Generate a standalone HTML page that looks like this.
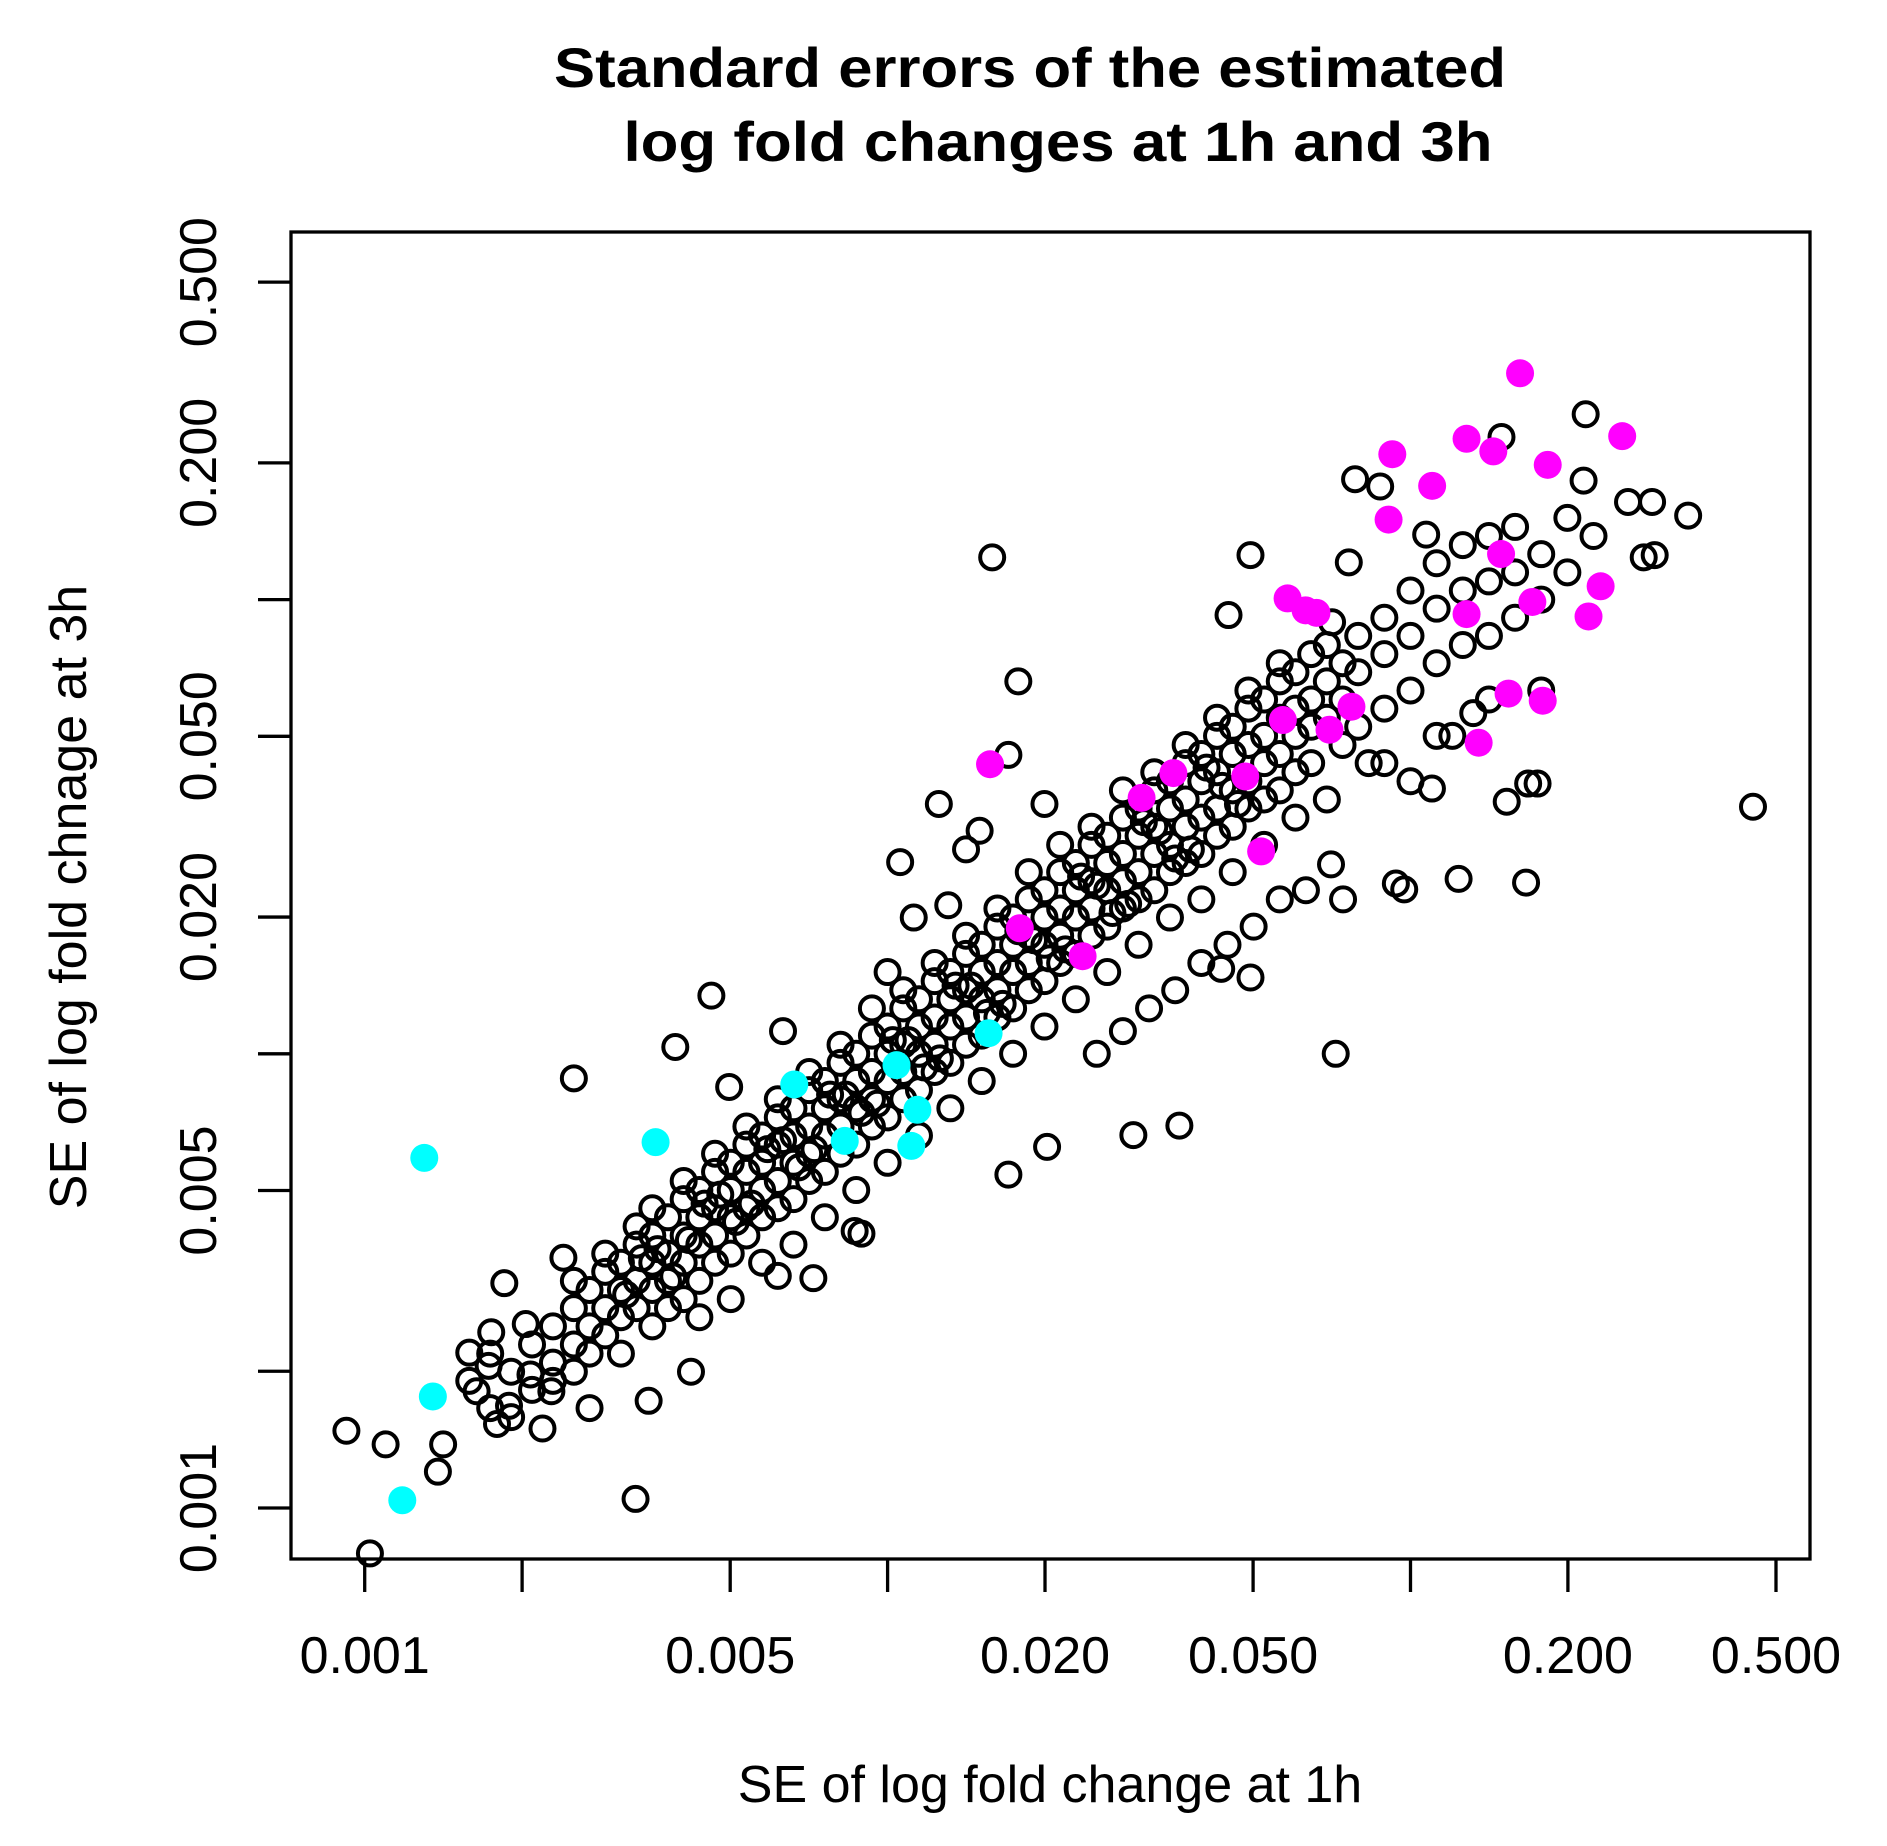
<!DOCTYPE html>
<html><head><meta charset="utf-8"><style>
html,body{margin:0;padding:0;background:#fff;}
svg{display:block;font-family:"Liberation Sans",sans-serif;}
</style></head><body>
<svg id="chart" width="1887" height="1846" viewBox="0 0 1887 1846">
<rect x="0" y="0" width="1887" height="1846" fill="#fff"/>
<text x="1030" y="87" text-anchor="middle" font-size="56" font-weight="bold" textLength="952" lengthAdjust="spacingAndGlyphs">Standard errors of the estimated</text>
<text x="1058" y="161" text-anchor="middle" font-size="56" font-weight="bold" textLength="869" lengthAdjust="spacingAndGlyphs">log fold changes at 1h and 3h</text>
<text x="1050" y="1802" text-anchor="middle" font-size="52">SE of log fold change at 1h</text>
<text x="0" y="0" transform="translate(86,897) rotate(-90)" text-anchor="middle" font-size="52">SE of log fold chnage at 3h</text>
<g id="axes"></g>
<g id="points"></g>
<rect x="291" y="232" width="1519" height="1327" fill="none" stroke="#000" stroke-width="3.3"/>
</svg>
<script>
const xTickValues = [0.001,0.002,0.005,0.01,0.02,0.05,0.1,0.2,0.5];
const xTickLabels = ["0.001","","0.005","","0.020","0.050","","0.200","0.500"];
const yTickValues = [0.001,0.002,0.005,0.01,0.02,0.05,0.1,0.2,0.5];
const yTickLabels = ["0.001","","0.005","","0.020","0.050","","0.200","0.500"];

const magentaSE1h = [0.162,0.254,0.128,0.144,0.0923,0.183,0.110,0.0908,0.149,0.231,0.0582,0.171,0.063,0.0661,0.128,0.219,0.154,0.179,0.0771,0.057,0.070,0.135,0.0157,0.0352,0.0483,0.0306,0.0518,0.0179,0.0236];
const magentaSE3h = [0.315,0.229,0.226,0.212,0.209,0.198,0.178,0.150,0.126,0.107,0.1006,0.0988,0.0947,0.0935,0.0929,0.0918,0.0621,0.0599,0.0581,0.0543,0.0517,0.0484,0.0434,0.0415,0.0408,0.0366,0.0279,0.0189,0.0164];
const cyanSE1h = [0.00130,0.00360,0.00663,0.0104,0.0156,0.0114,0.00828,0.0111,0.00135,0.00118];
const cyanSE3h = [0.0059,0.00639,0.00856,0.00944,0.0111,0.00753,0.00643,0.00627,0.00176,0.00104];

const logSE1h = [
-1.80,-1.75,-0.345,-1.143,-2.60,-2.337,-2.482,-2.99,-3.035,-2.96,-2.86,-2.85,-0.826,-0.665,-0.669,-0.469,-0.584,-0.538,-0.554,-0.533,-1.106,-1.058,-0.97,-1.306,-1.348,-1.118,-0.908,-1.028,-1.012,-0.779,-0.775,-0.757,-0.816,-0.959,-1.129,-1.152,-1.902,-1.976,-1.824,-1.769,-1.884,-1.53,-1.442,-1.769,-1.695,-2.142,-2.21,-2.376,-2.457,-2.57,-2.66,-2.747,-2.733,-2.62,-2.80,-2.763,-2.786,-2.724,-2.683,-2.643,-2.758,-2.692,-2.406,-2.303,-1.306,-1.362,-2.063,-2.05,
-2.80,-2.76,-2.76,-2.72,-2.72,-2.68,-2.68,-2.64,-2.64,-2.64,-2.60,-2.60,-2.60,-2.60,-2.57,-2.57,-2.57,-2.54,-2.54,-2.54,-2.54,-2.51,-2.51,-2.51,-2.51,-2.48,-2.48,-2.48,-2.48,
-2.45,-2.45,-2.45,-2.45,-2.45,-2.42,-2.42,-2.42,-2.42,-2.39,-2.39,-2.39,-2.39,-2.39,-2.36,-2.36,-2.36,-2.36,-2.36,-2.33,-2.33,-2.33,-2.33,-2.33,-2.30,-2.30,-2.30,-2.30,-2.30,
-2.27,-2.27,-2.27,-2.27,-2.27,-2.24,-2.24,-2.24,-2.24,-2.24,-2.21,-2.21,-2.21,-2.21,-2.21,-2.18,-2.18,-2.18,-2.18,-2.18,-2.15,-2.15,-2.15,-2.15,-2.15,-2.12,-2.12,-2.12,-2.12,-2.12,
-2.09,-2.09,-2.09,-2.09,-2.09,-2.06,-2.06,-2.06,-2.06,-2.06,-2.03,-2.03,-2.03,-2.03,-2.03,-2.00,-2.00,-2.00,-2.00,-2.00,-1.97,-1.97,-1.97,-1.97,-1.97,-1.94,-1.94,-1.94,-1.94,-1.94,
-1.91,-1.91,-1.91,-1.91,-1.91,-1.88,-1.88,-1.88,-1.88,-1.88,-1.85,-1.85,-1.85,-1.85,-1.85,-1.82,-1.82,-1.82,-1.82,-1.82,-1.79,-1.79,-1.79,-1.79,-1.79,-1.76,-1.76,-1.76,-1.76,-1.76,
-1.73,-1.73,-1.73,-1.73,-1.73,-1.70,-1.70,-1.70,-1.70,-1.70,-1.67,-1.67,-1.67,-1.67,-1.67,-1.64,-1.64,-1.64,-1.64,-1.64,-1.61,-1.61,-1.61,-1.61,-1.61,-1.58,-1.58,-1.58,-1.58,-1.58,
-1.55,-1.55,-1.55,-1.55,-1.55,-1.52,-1.52,-1.52,-1.52,-1.52,-1.49,-1.49,-1.49,-1.49,-1.49,-1.46,-1.46,-1.46,-1.46,-1.46,-1.43,-1.43,-1.43,-1.43,-1.43,-1.40,-1.40,-1.40,-1.40,-1.40,
-1.37,-1.37,-1.37,-1.37,-1.37,-1.34,-1.34,-1.34,-1.34,-1.34,-1.31,-1.31,-1.31,-1.31,-1.31,-1.28,-1.28,-1.28,-1.28,-1.28,-1.25,-1.25,-1.25,-1.25,-1.25,-1.22,-1.22,-1.22,-1.22,-1.22,
-1.19,-1.19,-1.19,-1.19,-1.16,-1.16,-1.16,-1.16,-1.13,-1.13,-1.13,-1.10,-1.10,-1.10,-1.05,-1.05,-1.05,-1.05,-1.00,-1.00,-1.00,-0.95,-0.95,-0.95,-0.95,-0.90,-0.90,-0.90,
-0.85,-0.85,-0.85,-0.85,-0.80,-0.80,-0.80,-0.75,-0.75,-0.75,-0.70,-0.70,-0.65,
-1.40,-1.35,-1.30,-1.45,-1.50,-1.25,-1.20,-1.55,-1.60,-2.00,-1.95,-2.20,-1.85,-1.70,-1.00,-0.92,-1.08,-1.15,-0.88,
-2.50,-2.44,-2.38,-2.32,-2.26,-2.20,-2.14,-2.08,-2.02,-1.96,-1.90,-1.84,-1.78,-1.72,-1.66,-1.60,-1.54,-1.48,-1.42,-1.36,
-2.47,-2.41,-2.35,-2.29,-2.23,-2.17,-2.11,-2.05,-1.99,-1.93,-1.87,-1.81,-1.75,-1.69,-1.63,-1.57,-1.51,-1.45,-1.39,-1.33
];
const logSE3h = [
-0.907,-1.18,-1.456,-2.0,-2.054,-1.872,-2.98,-3.10,-2.83,-2.86,-2.92,-2.86,-0.642,-0.592,-0.738,-0.815,-0.785,-0.785,-0.907,-0.902,-0.735,-0.751,-0.857,-0.902,-1.034,-0.918,-1.615,-1.625,-1.638,-1.623,-1.405,-1.405,-1.445,-1.416,-1.660,-1.583,-1.45,-1.578,-1.509,-1.342,-1.673,-2.179,-2.158,-2.266,-2.205,-2.494,-2.489,-2.70,-2.764,-2.78,-2.825,-2.815,-2.505,-2.449,-2.658,-2.687,-2.743,-2.775,-2.706,-2.743,-2.613,-2.595,-1.985,-2.073,-1.832,-1.813,-2.39,-2.396,
-2.72,-2.78,-2.66,-2.70,-2.80,-2.64,-2.74,-2.60,-2.68,-2.72,-2.56,-2.64,-2.70,-2.50,-2.52,-2.60,-2.66,-2.48,-2.56,-2.62,-2.44,-2.46,-2.52,-2.58,-2.66,-2.42,-2.50,-2.56,-2.38,
-2.40,-2.46,-2.52,-2.60,-2.34,-2.36,-2.44,-2.50,-2.56,-2.32,-2.40,-2.46,-2.54,-2.28,-2.30,-2.36,-2.42,-2.50,-2.58,-2.26,-2.34,-2.40,-2.46,-2.22,-2.24,-2.30,-2.36,-2.44,-2.54,
-2.20,-2.26,-2.34,-2.40,-2.16,-2.18,-2.24,-2.30,-2.36,-2.46,-2.14,-2.20,-2.28,-2.34,-2.10,-2.12,-2.18,-2.24,-2.32,-2.42,-2.08,-2.16,-2.22,-2.28,-2.04,-2.06,-2.12,-2.18,-2.26,-2.36,
-2.02,-2.10,-2.16,-2.22,-1.98,-2.00,-2.06,-2.12,-2.20,-2.30,-1.96,-2.04,-2.10,-2.16,-1.90,-1.94,-2.00,-2.06,-2.14,-2.24,-1.90,-1.98,-2.04,-2.10,-1.86,-1.88,-1.94,-2.00,-2.08,-2.18,
-1.84,-1.92,-1.98,-2.04,-1.80,-1.82,-1.88,-1.94,-2.02,-2.12,-1.78,-1.86,-1.92,-1.98,-1.74,-1.76,-1.82,-1.88,-1.96,-2.06,-1.72,-1.80,-1.86,-1.92,-1.68,-1.70,-1.76,-1.82,-1.90,-2.00,
-1.66,-1.74,-1.80,-1.86,-1.60,-1.64,-1.70,-1.76,-1.84,-1.94,-1.60,-1.68,-1.74,-1.80,-1.54,-1.58,-1.64,-1.70,-1.78,-1.88,-1.54,-1.62,-1.68,-1.74,-1.50,-1.52,-1.58,-1.64,-1.72,-1.82,
-1.48,-1.56,-1.62,-1.68,-1.42,-1.46,-1.52,-1.60,-1.66,-1.76,-1.42,-1.50,-1.56,-1.64,-1.38,-1.40,-1.46,-1.54,-1.60,-1.70,-1.36,-1.44,-1.50,-1.58,-1.32,-1.34,-1.40,-1.48,-1.56,-1.66,
-1.30,-1.38,-1.46,-1.52,-1.26,-1.28,-1.34,-1.42,-1.50,-1.60,-1.24,-1.32,-1.40,-1.46,-1.20,-1.22,-1.30,-1.36,-1.44,-1.54,-1.18,-1.26,-1.34,-1.42,-1.14,-1.16,-1.24,-1.30,-1.38,-1.48,
-1.12,-1.22,-1.28,-1.36,-1.10,-1.18,-1.26,-1.44,-1.14,-1.22,-1.32,-1.08,-1.16,-1.28,-1.04,-1.12,-1.24,-1.36,-0.98,-1.08,-1.20,-0.92,-1.02,-1.14,-1.30,-0.88,-0.98,-1.10,
-0.86,-0.96,-1.08,-1.22,-0.84,-0.94,-1.04,-0.90,-1.00,-1.20,-0.82,-0.94,-0.86,
-1.80,-1.76,-1.72,-1.86,-1.90,-1.66,-1.64,-1.95,-2.00,-1.82,-1.70,-1.95,-1.55,-1.45,-1.40,-1.30,-1.36,-1.05,-1.25,
-2.53,-2.43,-2.41,-2.31,-2.33,-2.19,-2.21,-2.09,-2.11,-1.97,-2.01,-1.85,-1.89,-1.75,-1.77,-1.63,-1.67,-1.51,-1.55,-1.41,
-2.45,-2.49,-2.33,-2.37,-2.21,-2.25,-2.09,-2.13,-1.97,-2.03,-1.85,-1.91,-1.73,-1.79,-1.61,-1.69,-1.49,-1.57,-1.37,-1.45
];

const NS = "http://www.w3.org/2000/svg";
function xScale(logv){ return 364.7 + (logv + 3) * 522.9; }
function yScale(logv){ return 1508 - (logv + 3) * 454.2; }
function xOf(v){ return xScale(Math.log10(v)); }
function yOf(v){ return yScale(Math.log10(v)); }

const axes = document.getElementById('axes');
const pts = document.getElementById('points');

function mk(tag, attrs){
  const e = document.createElementNS(NS, tag);
  for (const k in attrs) e.setAttribute(k, attrs[k]);
  return e;
}

xTickValues.forEach((v, i) => {
  const px = xOf(v);
  const t = mk('line', {x1:px, x2:px, y1:1559, y2:1592, stroke:'#000', 'stroke-width':3.3});
  
  
  axes.appendChild(t);
  if (xTickLabels[i]) {
    const tx = mk('text', {x:px, y:1673, 'text-anchor':'middle', 'font-size':52});
    
    
    tx.textContent = xTickLabels[i];
    axes.appendChild(tx);
  }
});
yTickValues.forEach((v, i) => {
  const py = yOf(v);
  const t = mk('line', {x1:258, x2:291, y1:py, y2:py, stroke:'#000', 'stroke-width':3.3});
  
  
  axes.appendChild(t);
  if (yTickLabels[i]) {
    const tx = mk('text', {x:0, y:0, transform:'translate(216,' + py + ') rotate(-90)', 'text-anchor':'middle', 'font-size':52});
    
    
    tx.textContent = yTickLabels[i];
    axes.appendChild(tx);
  }
});

logSE1h.forEach((lx, i) => {
  const c = mk('circle', {cx:xScale(lx), cy:yScale(logSE3h[i]), r:12, fill:'none', stroke:'#000', 'stroke-width':4});
  
  
  pts.appendChild(c);
});
magentaSE1h.forEach((v, i) => {
  const c = mk('circle', {cx:xOf(v), cy:yOf(magentaSE3h[i]), r:14, fill:'#ff00ff'});
  
  
  pts.appendChild(c);
});
cyanSE1h.forEach((v, i) => {
  const c = mk('circle', {cx:xOf(v), cy:yOf(cyanSE3h[i]), r:14, fill:'#00ffff'});
  
  
  pts.appendChild(c);
});
</script>
</body></html>
